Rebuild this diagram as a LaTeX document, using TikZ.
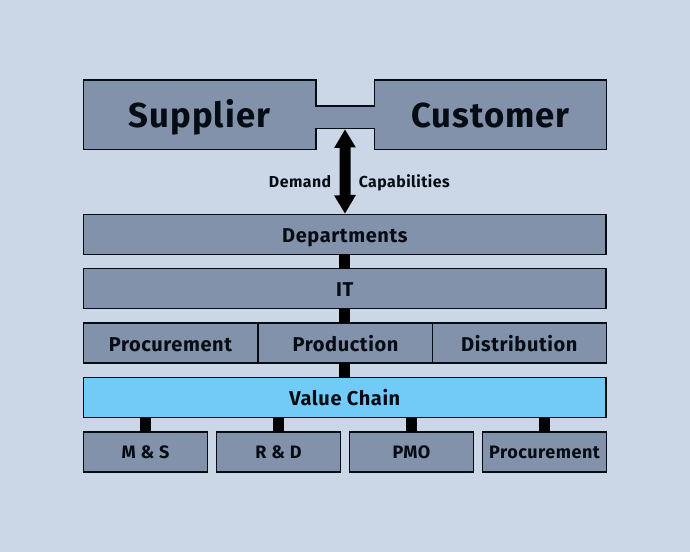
\documentclass[tikz,border=0pt]{standalone}
\usepackage{fontspec}
\setmainfont[LetterSpace=3]{Fira Sans}
\definecolor{bgc}{HTML}{CBD7E6}
\definecolor{boxc}{HTML}{8292AB}
\definecolor{vcc}{HTML}{72CBF6}
\definecolor{ink}{HTML}{060C14}
\tikzset{
  pane/.style={draw=ink,line width=1.15pt,fill=boxc,minimum height=30pt,inner sep=0pt,outer sep=0pt,font=\bfseries\fontsize{15}{17}\selectfont,text=ink,anchor=north west,text height=11.8pt,text depth=0pt},
  wide/.style={pane,minimum width=392pt},
  third/.style={pane,minimum width=130.5pt},
  small/.style={pane,minimum width=93pt,font=\bfseries\fontsize{13.5}{15}\selectfont,text height=9.3pt},
  link/.style={line width=8.2pt,draw=black},
  big/.style={font=\bfseries\fontsize{26}{30}\selectfont,text=ink,inner sep=0pt,text height=18.4pt,text depth=0pt},
  side/.style={font=\bfseries\fontsize{11.9}{14}\selectfont,text=ink,inner sep=0pt,text height=8.3pt,text depth=0pt},
}
\begin{document}
\begin{tikzpicture}[x=0.75pt,y=-0.75pt]
\useasboundingbox (0,0) rectangle (690,552);
\fill[bgc] (0,0) rectangle (690,552);
\coordinate (bridge) at (345,129.5);
\node[wide] (dept) at (83.5,214.5) {Departments};
\node[wide] (it) at (83.5,268.7) {IT};
\node[third] (proc) at (83.5,323.2) {Procurement};
\node[third] (prod) at (258.5,323.2) {Production};
\node[third] (dist) at (432.3,323.2) {Distribution};
\node[wide,fill=vcc] (vc) at (83.5,377.6) {Value Chain};
\node[small] (ms) at (83.5,431.9) {M \& S};
\node[small] (rd) at (216.5,431.9) {R \& D};
\node[small] (pmo) at (349.5,431.9) {PMO};
\node[small] (pr2) at (482.5,431.9) {Procurement};
\draw[link] (dept.south) -- (it.north);
\draw[link] (it.south) -- (it.south |- prod.north);
\draw[link] (it.south |- prod.south) -- (vc.north);
\foreach \a in {ms,rd,pmo,pr2}{
  \draw[link] (\a.north) -- (\a.north |- vc.south);
}
\draw[draw=ink,line width=1.15pt,fill=boxc,line join=miter]
  (83.5,80) -- (316,80) -- (316,106) -- (374.5,106) -- (374.5,80) -- (606.5,80)
  -- (606.5,149.3) -- (374.5,149.3) -- (374.5,128.7) -- (316,128.7) -- (316,149.3)
  -- (83.5,149.3) -- cycle;
\node[big] (sup) at (199.5,115.5) {Supplier};
\node[big] (cus) at (490.5,115.5) {Customer};
\fill[black] (bridge) -- ++(10.9,18) -- ++(-5.4,0) -- ++(0,47.5) -- ++(5.4,0)
  -- (345,213.5) -- ++(-10.9,-18) -- ++(5.4,0) -- ++(0,-47.5) -- ++(-5.4,0) -- cycle;
\node[side,anchor=east] (dem) at (331.5,182) {Demand};
\node[side,anchor=west] (cap) at (358.5,182) {Capabilities};
\end{tikzpicture}
\end{document}
